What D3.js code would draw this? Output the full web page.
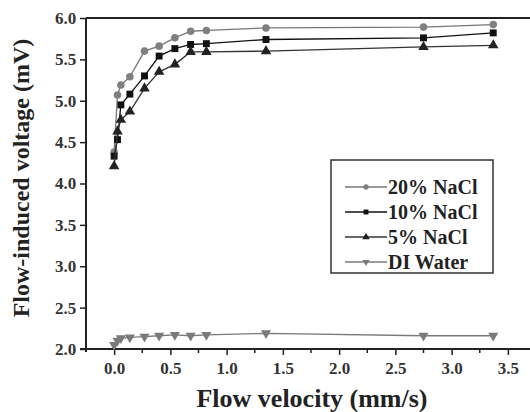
<!DOCTYPE html>
<html lang="en">
<head>
<meta charset="UTF-8">
<title>Flow-induced voltage vs flow velocity</title>
<script src="https://d3js.org/d3.v7.min.js"></script>
<style>
    body { margin: 0; padding: 0; background: #fff; }
    svg { display: block; }
    text { font-family: "Liberation Serif", "Times New Roman", serif; font-weight: bold; fill: #222; }
    .axis path, .axis line { stroke: #222; }
</style>
</head>
<body>
<svg id="chart" width="530" height="412"></svg>
<script>
    // data
    const velocity = [0, 0.03, 0.06, 0.14, 0.27, 0.40, 0.54, 0.68, 0.82, 1.35, 2.75, 3.37];
    const nacl20 = [4.38, 5.07, 5.19, 5.29, 5.60, 5.66, 5.76, 5.84, 5.85, 5.88, 5.89, 5.92];
    const nacl10 = [4.33, 4.53, 4.95, 5.08, 5.30, 5.54, 5.63, 5.68, 5.69, 5.74, 5.76, 5.82];
    const nacl5 = [4.21, 4.63, 4.77, 4.87, 5.15, 5.35, 5.44, 5.59, 5.59, 5.60, 5.65, 5.67];
    const diWater = [2.05, 2.10, 2.13, 2.14, 2.15, 2.16, 2.17, 2.16, 2.17, 2.19, 2.16, 2.16];
    const seriesNames = ["20% NaCl", "10% NaCl", "5% NaCl", "DI Water"];
    const xTicks = [0, 0.5, 1.0, 1.5, 2.0, 2.5, 3.0, 3.5];
    const yTicks = [2.0, 2.5, 3.0, 3.5, 4.0, 4.5, 5.0, 5.5, 6.0];

    const series = [
        { name: seriesNames[0], values: nacl20, color: "#808080", line: "#777", symbol: d3.symbolCircle, size: 45, rotate: 0 },
        { name: seriesNames[1], values: nacl10, color: "#111", line: "#111", symbol: d3.symbolSquare, size: 48, rotate: 0 },
        { name: seriesNames[2], values: nacl5, color: "#222", line: "#333", symbol: d3.symbolTriangle, size: 48, rotate: 0 },
        { name: seriesNames[3], values: diWater, color: "#7a7a7a", line: "#7a7a7a", symbol: d3.symbolTriangle, size: 44, rotate: 180 }
    ];

    const svg = d3.select("#chart");

    const x = d3.scaleLinear().domain([-0.25, 3.75]).range([86, 536]);
    const y = d3.scaleLinear().domain([2.0, 6.0]).range([349, 18]);

    // frame (top line; right side falls outside the picture)
    svg.append("line")
        .attr("x1", x(-0.25)).attr("x2", 530)
        .attr("y1", y(6)).attr("y2", y(6))
        .attr("stroke", "#222").attr("stroke-width", 2);

    // x axis
    const xAxis = svg.append("g")
        .attr("class", "axis")
        .attr("transform", `translate(0,${y(2)})`)
        .call(d3.axisBottom(x).tickValues(xTicks).tickFormat(d3.format(".1f")).tickSize(6).tickSizeOuter(0));
    xAxis.select(".domain").attr("stroke-width", 2).attr("d", `M${x(-0.25) - 6},0H530`);
    xAxis.selectAll(".tick line").attr("stroke-width", 1.5);
    xAxis.selectAll("text").attr("font-size", 17).attr("dy", "0.95em").style("fill", "#333");

    // minor x ticks
    svg.append("g")
        .attr("class", "axis")
        .selectAll("line")
        .data(d3.range(0.25, 3.75, 0.5))
        .join("line")
        .attr("x1", d => x(d)).attr("x2", d => x(d))
        .attr("y1", y(2)).attr("y2", y(2) + 4)
        .attr("stroke-width", 1.5);

    // y axis
    const yAxis = svg.append("g")
        .attr("class", "axis")
        .attr("transform", `translate(${x(-0.25)},0)`)
        .call(d3.axisLeft(y).tickValues(yTicks).tickFormat(d3.format(".1f")).tickSize(6).tickSizeOuter(0));
    yAxis.select(".domain").attr("stroke-width", 2).attr("d", `M0,${y(6)}V${y(2) + 3}`);
    yAxis.selectAll(".tick line").attr("stroke-width", 1.5);
    yAxis.selectAll("text").attr("font-size", 17).attr("dx", "-0.05em").style("fill", "#333");

    // series lines and markers
    const line = d3.line().x(d => x(d[0])).y(d => y(d[1]));

    series.forEach(s => {
        const pts = velocity.map((v, i) => [v, s.values[i]]);
        svg.append("path")
            .datum(pts)
            .attr("fill", "none")
            .attr("stroke", s.line)
            .attr("stroke-width", 1.3)
            .attr("d", line);
        svg.append("g")
            .selectAll("path")
            .data(pts)
            .join("path")
            .attr("d", d3.symbol().type(s.symbol).size(s.size))
            .attr("transform", d => `translate(${x(d[0])},${y(d[1])}) rotate(${s.rotate})`)
            .attr("fill", s.color);
    });

    // axis titles
    svg.append("text")
        .attr("x", 312).attr("y", 407)
        .attr("text-anchor", "middle")
        .attr("font-size", 26)
        .text("Flow velocity (mm/s)");

    svg.append("text")
        .attr("transform", "translate(29,178) rotate(-90)")
        .attr("text-anchor", "middle")
        .attr("font-size", 24)
        .text("Flow-induced voltage (mV)");

    // legend
    const legend = svg.append("g").attr("transform", "translate(331,160)");
    legend.append("rect")
        .attr("width", 162).attr("height", 113)
        .attr("fill", "#fff").attr("stroke", "#333").attr("stroke-width", 1.5);

    series.forEach((s, i) => {
        const row = legend.append("g").attr("transform", `translate(0,${27 + i * 25})`);
        row.append("line")
            .attr("x1", 14).attr("x2", 56)
            .attr("stroke", s.line).attr("stroke-width", 1.3);
        row.append("path")
            .attr("d", d3.symbol().type(s.symbol).size(s.size * 0.5))
            .attr("transform", `translate(35,0) rotate(${s.rotate})`)
            .attr("fill", s.color);
        row.append("text")
            .attr("x", 57).attr("y", 0)
            .attr("dy", "0.35em")
            .attr("font-size", 20)
            .text(s.name);
    });
</script>
</body>
</html>
